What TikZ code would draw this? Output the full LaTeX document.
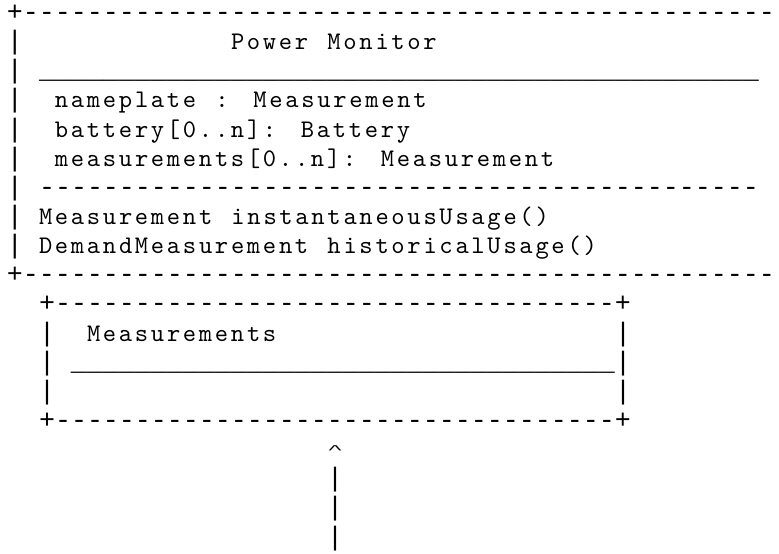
\documentclass[tikz,border=0pt]{standalone}
\usepackage{fontspec}
\setmonofont{Liberation Mono}
\newfontfamily\wordfont{lmmono10-regular.otf}[LetterSpace=10.66, WordSpace={1.2,0,0}]
\usepackage{tikz}

% a run of one character, #1 times
\ExplSyntaxOn
\newcommand{\charrun}[2]{\prg_replicate:nn{#1}{#2}}
\ExplSyntaxOff

\begin{document}
\begin{tikzpicture}[
  x=12pt, y=-21.86pt,
  ascii/.style={anchor=base west, inner sep=0pt, outer sep=0pt,
    font=\ttfamily\fontsize{20}{22}\selectfont},
  asciiword/.style={ascii, font=\wordfont\fontsize{19}{22}\selectfont}
]

  \useasboundingbox (-0.4375,-0.703) rectangle (48.25,18.302);
  \clip (-0.4375,-0.703) rectangle (48.25,18.302);

  % Power Monitor box
  \node[ascii] (pmtop) at (0,0) {+\charrun{47}{-}};
  \node[ascii] (pmbar1) at (0,1) {|};
  \node[asciiword] (pmtitle) at (14,1) {Power Monitor};
  \node[ascii] (pmbar2) at (0,2) {|};
  \node[ascii] (pmline) at (2,2) {\charrun{45}{\_}};
  \node[ascii] (pmbar3) at (0,3) {|};
  \node[asciiword] (nameplate) at (3,3) {nameplate : Measurement};
  \node[ascii] (pmbar4) at (0,4) {|};
  \node[asciiword] (battery) at (3,4) {battery[0..n]: Battery};
  \node[ascii] (pmbar5) at (0,5) {|};
  \node[asciiword] (measattr) at (3,5) {measurements[0..n]: Measurement};
  \node[ascii] (pmbar6) at (0,6) {|};
  \node[ascii] (pmsep) at (2,6) {\charrun{45}{-}};
  \node[ascii] (pmbar7) at (0,7) {|};
  \node[asciiword] (instusage) at (2,7) {Measurement instantaneousUsage()};
  \node[ascii] (pmbar8) at (0,8) {|};
  \node[asciiword] (histusage) at (2,8) {DemandMeasurement historicalUsage()};
  \node[ascii] (pmbot) at (0,9) {+\charrun{47}{-}};

  % Measurements box
  \node[ascii] (mtop) at (2,10) {+\charrun{35}{-}+};
  \node[ascii] (mbarl1) at (2,11) {|};
  \node[asciiword] (mtitle) at (5,11) {Measurements};
  \node[ascii] (mbarr1) at (38,11) {|};
  \node[ascii] (mbarl2) at (2,12) {|};
  \node[ascii] (mline) at (4,12) {\charrun{34}{\_}};
  \node[ascii] (mbarr2) at (38,12) {|};
  \node[ascii] (mbarl3) at (2,13) {|};
  \node[ascii] (mbarr3) at (38,13) {|};
  \node[ascii] (mbot) at (2,14) {+\charrun{35}{-}+};

  % Arrow up into Measurements
  \node[ascii] (tip) at (20,15) {\raisebox{3.5pt}{\scalebox{1}[0.45]{\textasciicircum}}};
  \node[ascii] (stem1) at (20,16) {|};
  \node[ascii] (stem2) at (20,17) {|};
  \node[ascii] (stem3) at (20,18) {|};

\end{tikzpicture}
\end{document}
